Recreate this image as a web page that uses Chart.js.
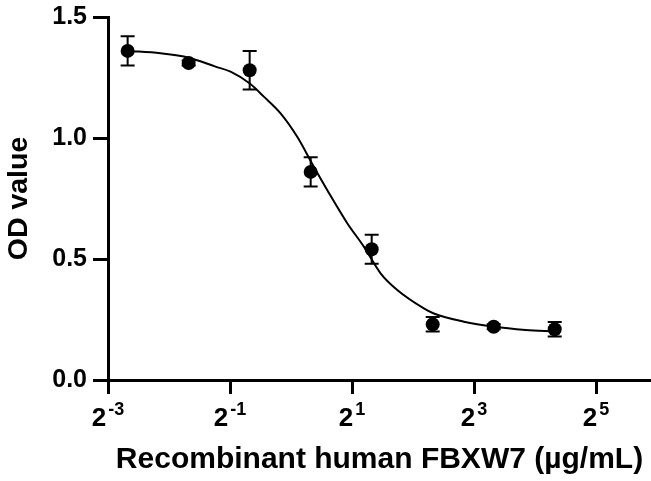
<!DOCTYPE html>
<html>
<head>
<meta charset="utf-8">
<script src="https://cdn.jsdelivr.net/npm/chart.js@4.4.1/dist/chart.umd.min.js"></script>
<style>
  html, body { margin: 0; padding: 0; background: #fff; }
  #wrap { width: 651px; height: 481px; }
</style>
</head>
<body>
<div id="wrap"><canvas id="c" width="651" height="481"></canvas></div>
<script>
// concentrações (µg/mL), diluição 1:2
const conc = [0.15625, 0.3125, 0.625, 1.25, 2.5, 5, 10, 20];
const odMean = [1.36, 1.31, 1.28, 0.86, 0.54, 0.23, 0.22, 0.21];
const odErr = [0.06, 0.01, 0.08, 0.06, 0.06, 0.03, 0.01, 0.03];

// curva ajustada
const fitX = [0.156, 0.227, 0.313, 0.424, 0.503, 0.626, 0.734, 0.888, 1.073, 1.296, 1.508, 1.894, 2.287, 2.765, 3.343, 4.522, 5.03, 7.12, 10.06, 14.36, 20];
const fitY = [1.36, 1.35, 1.332, 1.295, 1.274, 1.225, 1.171, 1.102, 1.005, 0.881, 0.785, 0.648, 0.551, 0.441, 0.372, 0.296, 0.276, 0.241, 0.220, 0.207, 0.200];

const xTicks = [0.125, 0.5, 2, 8, 32];
const xTickExp = ['-3', '-1', '1', '3', '5'];
const yTicks = [0, 0.5, 1.0, 1.5];

const FONT = '"Liberation Sans", Arial, sans-serif';

// barras de erro
const errorBars = {
  id: 'errorBars',
  afterDatasetsDraw(chart) {
    const { ctx, scales: { x, y } } = chart;
    ctx.save();
    ctx.strokeStyle = '#000';
    ctx.lineWidth = 2;
    conc.forEach((c, i) => {
      if (!odErr[i]) return;
      const px = x.getPixelForValue(c);
      const top = y.getPixelForValue(odMean[i] + odErr[i]);
      const bot = y.getPixelForValue(odMean[i] - odErr[i]);
      ctx.beginPath();
      ctx.moveTo(px, top); ctx.lineTo(px, bot);
      ctx.moveTo(px - 7, top); ctx.lineTo(px + 7, top);
      ctx.moveTo(px - 7, bot); ctx.lineTo(px + 7, bot);
      ctx.stroke();
    });
    ctx.restore();
  }
};

// rótulos 2^n com expoente
const powLabels = {
  id: 'powLabels',
  afterDraw(chart) {
    const { ctx, scales: { x } } = chart;
    ctx.save();
    ctx.fillStyle = '#000';
    ctx.textBaseline = 'alphabetic';
    xTicks.forEach((v, i) => {
      const px = x.getPixelForValue(v);
      ctx.font = 'bold 26px ' + FONT;
      const wb = ctx.measureText('2').width;
      ctx.font = 'bold 18px ' + FONT;
      const we = ctx.measureText(xTickExp[i]).width;
      const left = px - (wb + 2 + we) / 2;
      ctx.font = 'bold 26px ' + FONT;
      ctx.fillText('2', left, 426);
      ctx.font = 'bold 18px ' + FONT;
      ctx.fillText(xTickExp[i], left + wb + 2, 415);
    });
    ctx.restore();
  }
};

new Chart(document.getElementById('c'), {
  type: 'scatter',
  data: {
    datasets: [
      {
        type: 'line',
        data: fitX.map((v, i) => ({ x: v, y: fitY[i] })),
        borderColor: '#000', borderWidth: 2, pointRadius: 0,
        tension: 0.4, cubicInterpolationMode: 'monotone', fill: false
      },
      {
        data: conc.map((v, i) => ({ x: v, y: odMean[i] })),
        backgroundColor: '#000', borderColor: '#000', borderWidth: 0,
        pointRadius: 7, pointHoverRadius: 7
      }
    ]
  },
  options: {
    responsive: false, animation: false,
    layout: { autoPadding: false, padding: { top: 17, right: 0, left: 0, bottom: 0 } },
    plugins: { legend: { display: false }, tooltip: { enabled: false } },
    scales: {
      x: {
        type: 'logarithmic', min: 0.125, max: Math.pow(2, 5.9),
        afterBuildTicks: s => { s.ticks = xTicks.map(v => ({ value: v })); },
        afterFit: s => { s.height = 101; s.paddingLeft = 0; s.paddingRight = 0; },
        ticks: { callback: () => '', autoSkip: false },
        grid: { drawOnChartArea: false, drawTicks: true, tickLength: 14, tickWidth: 3, tickColor: '#000' },
        border: { display: true, width: 3, color: '#000' },
        title: { display: true, text: 'Recombinant human FBXW7 (µg/mL)', color: '#000',
          font: { family: FONT, size: 30, weight: 'bold' }, padding: { top: 0, bottom: 3 } }
      },
      y: {
        min: 0, max: 1.5,
        afterBuildTicks: s => { s.ticks = yTicks.map(v => ({ value: v })); },
        afterFit: s => { s.width = 108; s.paddingTop = 0; s.paddingBottom = 0; },
        ticks: { color: '#000', padding: 6, font: { family: FONT, size: 25, weight: 'bold' },
          callback: v => Number(v).toFixed(1) },
        grid: { drawOnChartArea: false, drawTicks: true, tickLength: 15, tickWidth: 3, tickColor: '#000' },
        border: { display: true, width: 3, color: '#000' },
        title: { display: true, text: 'OD value', color: '#000',
          font: { family: FONT, size: 28.5, weight: 'bold' }, padding: { top: 2, bottom: 0 } }
      }
    }
  },
  plugins: [errorBars, powLabels]
});
</script>
</body>
</html>
